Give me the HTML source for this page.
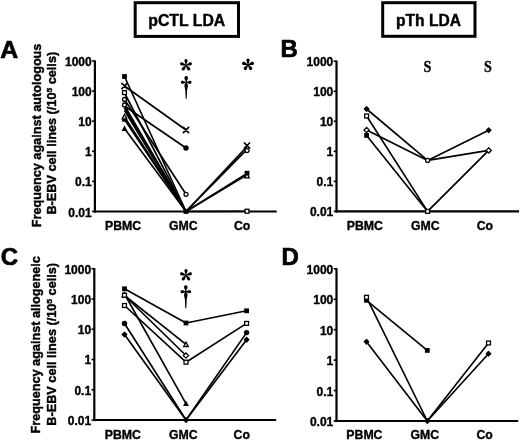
<!DOCTYPE html><html><head><meta charset="utf-8"><style>html,body{margin:0;padding:0;background:#fff;width:520px;height:441px;overflow:hidden;position:relative}</style></head><body><svg width="520" height="441" viewBox="0 0 520 441" style="position:absolute;left:0;top:0;will-change:transform">
<style>.t{font-family:"Liberation Sans", sans-serif;font-weight:bold;font-size:12px;fill:#000;stroke:#000;stroke-width:0.35px} .big{font-family:"Liberation Sans", sans-serif;font-weight:bold;font-size:24px;fill:#000;stroke:#000;stroke-width:0.7px} .ttl{font-family:"Liberation Sans", sans-serif;font-weight:bold;font-size:15.6px;fill:#000;stroke:#000;stroke-width:0.4px} .yl{font-family:"Liberation Sans", sans-serif;font-weight:bold;font-size:12px;fill:#000;stroke:#000;stroke-width:0.4px}</style>
<rect width="520" height="441" fill="#fff"/>
<rect x="135.2" y="2.7" width="103.3" height="33.7" fill="none" stroke="#000" stroke-width="3"/>
<text x="148.3" y="25.7" class="ttl" style="font-size:15.8px">pCTL LDA</text>
<rect x="382.7" y="2.7" width="92.3" height="33.6" fill="none" stroke="#000" stroke-width="3"/>
<text x="396" y="25.6" class="ttl">pTh LDA</text>
<text x="0.2" y="57.7" class="big" style="font-size:24.8px">A</text>
<text x="280.5" y="57.2" class="big">B</text>
<text x="0.8" y="265.2" class="big">C</text>
<text x="281.5" y="264.7" class="big">D</text>
<text transform="translate(40.6 135.4) rotate(-90)" text-anchor="middle" class="yl" textLength="183.6" lengthAdjust="spacingAndGlyphs">Frequency against autologous</text>
<text transform="translate(56.0 133.2) rotate(-90)" text-anchor="middle" class="yl" textLength="162.8" lengthAdjust="spacingAndGlyphs">B-EBV cell lines (/10<tspan dy="-4" font-size="8">5</tspan><tspan dy="4"> cells)</tspan></text>
<text transform="translate(40.0 344.8) rotate(-90)" text-anchor="middle" class="yl" textLength="177.4" lengthAdjust="spacingAndGlyphs">Frequency against allogeneic</text>
<text transform="translate(55.6 344.3) rotate(-90)" text-anchor="middle" class="yl" textLength="162.8" lengthAdjust="spacingAndGlyphs">B-EBV cell lines (/10<tspan dy="-4" font-size="8">5</tspan><tspan dy="4"> cells)</tspan></text>
<line x1="94.9" y1="60.4" x2="94.9" y2="212.6" stroke="#000" stroke-width="2.2"/>
<line x1="93.8" y1="211.5" x2="276.7" y2="211.5" stroke="#000" stroke-width="2.2"/>
<line x1="92.1" y1="61.0" x2="94.9" y2="61.0" stroke="#000" stroke-width="1.6"/>
<text x="91.7" y="66.0" text-anchor="end" class="t">1000</text>
<line x1="92.1" y1="91.1" x2="94.9" y2="91.1" stroke="#000" stroke-width="1.6"/>
<text x="91.7" y="96.1" text-anchor="end" class="t">100</text>
<line x1="92.1" y1="121.2" x2="94.9" y2="121.2" stroke="#000" stroke-width="1.6"/>
<text x="91.7" y="126.2" text-anchor="end" class="t">10</text>
<line x1="92.1" y1="151.3" x2="94.9" y2="151.3" stroke="#000" stroke-width="1.6"/>
<text x="91.7" y="156.3" text-anchor="end" class="t">1</text>
<line x1="92.1" y1="181.4" x2="94.9" y2="181.4" stroke="#000" stroke-width="1.6"/>
<text x="91.7" y="186.4" text-anchor="end" class="t">0.1</text>
<line x1="92.1" y1="211.5" x2="94.9" y2="211.5" stroke="#000" stroke-width="1.6"/>
<text x="91.7" y="216.5" text-anchor="end" class="t">0.01</text>
<text x="105.0" y="230.3" class="t" style="font-size:12.3px">PBMC</text>
<text x="169.0" y="230.3" class="t" style="font-size:12.3px">GMC</text>
<text x="233.9" y="230.3" class="t" style="font-size:12.3px">Co</text>
<line x1="336.5" y1="60.6" x2="336.5" y2="212.5" stroke="#000" stroke-width="2.2"/>
<line x1="335.4" y1="211.4" x2="519.0" y2="211.4" stroke="#000" stroke-width="2.2"/>
<line x1="333.7" y1="61.2" x2="336.5" y2="61.2" stroke="#000" stroke-width="1.6"/>
<text x="333.3" y="66.2" text-anchor="end" class="t">1000</text>
<line x1="333.7" y1="91.24" x2="336.5" y2="91.24" stroke="#000" stroke-width="1.6"/>
<text x="333.3" y="96.24" text-anchor="end" class="t">100</text>
<line x1="333.7" y1="121.28" x2="336.5" y2="121.28" stroke="#000" stroke-width="1.6"/>
<text x="333.3" y="126.28" text-anchor="end" class="t">10</text>
<line x1="333.7" y1="151.32" x2="336.5" y2="151.32" stroke="#000" stroke-width="1.6"/>
<text x="333.3" y="156.32" text-anchor="end" class="t">1</text>
<line x1="333.7" y1="181.36" x2="336.5" y2="181.36" stroke="#000" stroke-width="1.6"/>
<text x="333.3" y="186.36" text-anchor="end" class="t">0.1</text>
<line x1="333.7" y1="211.4" x2="336.5" y2="211.4" stroke="#000" stroke-width="1.6"/>
<text x="333.3" y="216.4" text-anchor="end" class="t">0.01</text>
<text x="346.7" y="230.3" class="t" style="font-size:12.3px">PBMC</text>
<text x="410.9" y="230.3" class="t" style="font-size:12.3px">GMC</text>
<text x="476.7" y="230.3" class="t" style="font-size:12.3px">Co</text>
<line x1="94.3" y1="268.1" x2="94.3" y2="421.1" stroke="#000" stroke-width="2.2"/>
<line x1="93.2" y1="420.0" x2="276.2" y2="420.0" stroke="#000" stroke-width="2.2"/>
<line x1="91.5" y1="268.7" x2="94.3" y2="268.7" stroke="#000" stroke-width="1.6"/>
<text x="91.1" y="273.7" text-anchor="end" class="t">1000</text>
<line x1="91.5" y1="298.96" x2="94.3" y2="298.96" stroke="#000" stroke-width="1.6"/>
<text x="91.1" y="303.96" text-anchor="end" class="t">100</text>
<line x1="91.5" y1="329.22" x2="94.3" y2="329.22" stroke="#000" stroke-width="1.6"/>
<text x="91.1" y="334.22" text-anchor="end" class="t">10</text>
<line x1="91.5" y1="359.48" x2="94.3" y2="359.48" stroke="#000" stroke-width="1.6"/>
<text x="91.1" y="364.48" text-anchor="end" class="t">1</text>
<line x1="91.5" y1="389.74" x2="94.3" y2="389.74" stroke="#000" stroke-width="1.6"/>
<text x="91.1" y="394.74" text-anchor="end" class="t">0.1</text>
<line x1="91.5" y1="420.0" x2="94.3" y2="420.0" stroke="#000" stroke-width="1.6"/>
<text x="91.1" y="425.0" text-anchor="end" class="t">0.01</text>
<text x="104.7" y="438.8" class="t" style="font-size:12.3px">PBMC</text>
<text x="169.0" y="438.8" class="t" style="font-size:12.3px">GMC</text>
<text x="233.5" y="438.8" class="t" style="font-size:12.3px">Co</text>
<line x1="336.5" y1="268.2" x2="336.5" y2="422.1" stroke="#000" stroke-width="2.2"/>
<line x1="335.4" y1="421.0" x2="518.2" y2="421.0" stroke="#000" stroke-width="2.2"/>
<line x1="333.7" y1="268.8" x2="336.5" y2="268.8" stroke="#000" stroke-width="1.6"/>
<text x="333.3" y="273.8" text-anchor="end" class="t">1000</text>
<line x1="333.7" y1="299.24" x2="336.5" y2="299.24" stroke="#000" stroke-width="1.6"/>
<text x="333.3" y="304.24" text-anchor="end" class="t">100</text>
<line x1="333.7" y1="329.68" x2="336.5" y2="329.68" stroke="#000" stroke-width="1.6"/>
<text x="333.3" y="334.68" text-anchor="end" class="t">10</text>
<line x1="333.7" y1="360.12" x2="336.5" y2="360.12" stroke="#000" stroke-width="1.6"/>
<text x="333.3" y="365.12" text-anchor="end" class="t">1</text>
<line x1="333.7" y1="390.56" x2="336.5" y2="390.56" stroke="#000" stroke-width="1.6"/>
<text x="333.3" y="395.56" text-anchor="end" class="t">0.1</text>
<line x1="333.7" y1="421.0" x2="336.5" y2="421.0" stroke="#000" stroke-width="1.6"/>
<text x="333.3" y="426.0" text-anchor="end" class="t">0.01</text>
<text x="346.3" y="439.4" class="t" style="font-size:12.3px">PBMC</text>
<text x="410.5" y="439.4" class="t" style="font-size:12.3px">GMC</text>
<text x="476.4" y="439.4" class="t" style="font-size:12.3px">Co</text>
<path d="M124.5 76.5 L186.0 211.5" fill="none" stroke="#000" stroke-width="1.65" stroke-linejoin="round"/>
<path d="M124.5 86.0 L186.0 130.0" fill="none" stroke="#000" stroke-width="1.65" stroke-linejoin="round"/>
<path d="M124.5 93.0 L186.0 211.5" fill="none" stroke="#000" stroke-width="1.65" stroke-linejoin="round"/>
<path d="M124.5 99.5 L186.0 194.3" fill="none" stroke="#000" stroke-width="1.65" stroke-linejoin="round"/>
<path d="M124.5 105.5 L186.0 211.5" fill="none" stroke="#000" stroke-width="1.65" stroke-linejoin="round"/>
<path d="M124.5 106.0 L186.0 148.0" fill="none" stroke="#000" stroke-width="1.65" stroke-linejoin="round"/>
<path d="M124.5 108.0 L186.0 211.5" fill="none" stroke="#000" stroke-width="1.65" stroke-linejoin="round"/>
<path d="M124.5 110.5 L186.0 211.5" fill="none" stroke="#000" stroke-width="1.65" stroke-linejoin="round"/>
<path d="M124.5 117.0 L186.0 211.5" fill="none" stroke="#000" stroke-width="1.65" stroke-linejoin="round"/>
<path d="M124.5 119.5 L186.0 211.5" fill="none" stroke="#000" stroke-width="1.65" stroke-linejoin="round"/>
<path d="M124.5 128.5 L186.0 211.5" fill="none" stroke="#000" stroke-width="1.65" stroke-linejoin="round"/>
<path d="M186.0 211.5 L247.0 146.6" fill="none" stroke="#000" stroke-width="1.65" stroke-linejoin="round"/>
<path d="M186.0 211.5 L247.0 149.4" fill="none" stroke="#000" stroke-width="1.65" stroke-linejoin="round"/>
<path d="M186.0 211.5 L247.0 173.4" fill="none" stroke="#000" stroke-width="1.65" stroke-linejoin="round"/>
<path d="M186.0 211.5 L247.0 174.9" fill="none" stroke="#000" stroke-width="1.65" stroke-linejoin="round"/>
<path d="M186.0 211.5 L247.0 211.2" fill="none" stroke="#000" stroke-width="1.65" stroke-linejoin="round"/>
<rect x="122.1" y="74.1" width="4.8" height="4.8" fill="#000"/>
<path d="M121.9 83.4L127.1 88.6M127.1 83.4L121.9 88.6" stroke="#000" stroke-width="1.7" stroke-linecap="round"/>
<rect x="122.55" y="90.65" width="3.9" height="3.9" fill="#fff" stroke="#000" stroke-width="1.3"/>
<circle cx="124.5" cy="99.5" r="2.0" fill="#fff" stroke="#000" stroke-width="1.3"/>
<circle cx="124.5" cy="105" r="2.0" fill="#fff" stroke="#000" stroke-width="1.3"/>
<rect x="122.1" y="116.9" width="4.8" height="4.8" fill="#000"/>
<path d="M124.5 114.5L126.8 118.9L122.2 118.9Z" fill="#fff" stroke="#000" stroke-width="1.3"/>
<path d="M124.5 125.3L127.4 130.9L121.6 130.9Z" fill="#000"/>
<path d="M183.4 127.4L188.6 132.6M188.6 127.4L183.4 132.6" stroke="#000" stroke-width="1.7" stroke-linecap="round"/>
<circle cx="186.0" cy="148" r="2.7" fill="#000"/>
<circle cx="186.0" cy="194.3" r="2.0" fill="#fff" stroke="#000" stroke-width="1.3"/>
<rect x="183.6" y="209.1" width="4.8" height="4.8" fill="#000"/>
<circle cx="247.0" cy="150.6" r="2.0" fill="#fff" stroke="#000" stroke-width="1.3"/>
<path d="M244.4 143.0L249.6 148.2M249.6 143.0L244.4 148.2" stroke="#000" stroke-width="1.7" stroke-linecap="round"/>
<rect x="244.6" y="170.8" width="4.8" height="4.8" fill="#000"/>
<path d="M247.0 173.5L249.3 177.9L244.7 177.9Z" fill="#fff" stroke="#000" stroke-width="1.3"/>
<rect x="245.05" y="209.25" width="3.9" height="3.9" fill="#fff" stroke="#000" stroke-width="1.3"/>
<g transform="translate(186 65.2) rotate(-90) scale(1.0)"><path d="M0 -0.4 C1.7 -0.5 3.2 -1.6 4.6 -1.6 A1.6 1.6 0 0 1 4.6 1.6 C3.2 1.6 1.7 0.5 0 0.4Z" fill="#000"/></g><g transform="translate(186 65.2) rotate(-18) scale(1.0)"><path d="M0 -0.4 C1.7 -0.5 3.2 -1.6 4.6 -1.6 A1.6 1.6 0 0 1 4.6 1.6 C3.2 1.6 1.7 0.5 0 0.4Z" fill="#000"/></g><g transform="translate(186 65.2) rotate(54) scale(1.0)"><path d="M0 -0.4 C1.7 -0.5 3.2 -1.6 4.6 -1.6 A1.6 1.6 0 0 1 4.6 1.6 C3.2 1.6 1.7 0.5 0 0.4Z" fill="#000"/></g><g transform="translate(186 65.2) rotate(126) scale(1.0)"><path d="M0 -0.4 C1.7 -0.5 3.2 -1.6 4.6 -1.6 A1.6 1.6 0 0 1 4.6 1.6 C3.2 1.6 1.7 0.5 0 0.4Z" fill="#000"/></g><g transform="translate(186 65.2) rotate(198) scale(1.0)"><path d="M0 -0.4 C1.7 -0.5 3.2 -1.6 4.6 -1.6 A1.6 1.6 0 0 1 4.6 1.6 C3.2 1.6 1.7 0.5 0 0.4Z" fill="#000"/></g>
<g transform="translate(186.2 75.9) scale(1.0)"><path d="M0 0 C1.5 0 1.9 1.1 1.7 2.3 C1.5 3.5 0.6 4.5 0.5 6.2 L-0.5 6.2 C-0.6 4.5 -1.5 3.5 -1.7 2.3 C-1.9 1.1 -1.5 0 0 0Z" fill="#000"/><path d="M-5.3 6.4 C-5.3 5.0 -4.1 4.7 -3.0 5.0 C-1.9 5.3 -1.1 5.9 0 5.9 C1.1 5.9 1.9 5.3 3.0 5.0 C4.1 4.7 5.3 5.0 5.3 6.4 C5.3 7.8 4.1 8.1 3.0 7.8 C1.9 7.5 1.1 6.9 0 6.9 C-1.1 6.9 -1.9 7.5 -3.0 7.8 C-4.1 8.1 -5.3 7.8 -5.3 6.4Z" fill="#000"/><path d="M-0.6 6.6 C-1.2 7.6 -1.8 8.6 -1.75 10.0 C-1.7 11.4 -1.1 12.5 -0.9 14.5 L-0.5 22.9 L0.5 22.9 L0.9 14.5 C1.1 12.5 1.7 11.4 1.75 10.0 C1.8 8.6 1.2 7.6 0.6 6.6Z" fill="#000"/></g>
<g transform="translate(248 64.8) rotate(-90) scale(1.0)"><path d="M0 -0.4 C1.7 -0.5 3.2 -1.6 4.6 -1.6 A1.6 1.6 0 0 1 4.6 1.6 C3.2 1.6 1.7 0.5 0 0.4Z" fill="#000"/></g><g transform="translate(248 64.8) rotate(-18) scale(1.0)"><path d="M0 -0.4 C1.7 -0.5 3.2 -1.6 4.6 -1.6 A1.6 1.6 0 0 1 4.6 1.6 C3.2 1.6 1.7 0.5 0 0.4Z" fill="#000"/></g><g transform="translate(248 64.8) rotate(54) scale(1.0)"><path d="M0 -0.4 C1.7 -0.5 3.2 -1.6 4.6 -1.6 A1.6 1.6 0 0 1 4.6 1.6 C3.2 1.6 1.7 0.5 0 0.4Z" fill="#000"/></g><g transform="translate(248 64.8) rotate(126) scale(1.0)"><path d="M0 -0.4 C1.7 -0.5 3.2 -1.6 4.6 -1.6 A1.6 1.6 0 0 1 4.6 1.6 C3.2 1.6 1.7 0.5 0 0.4Z" fill="#000"/></g><g transform="translate(248 64.8) rotate(198) scale(1.0)"><path d="M0 -0.4 C1.7 -0.5 3.2 -1.6 4.6 -1.6 A1.6 1.6 0 0 1 4.6 1.6 C3.2 1.6 1.7 0.5 0 0.4Z" fill="#000"/></g>
<path d="M366.6 109.0 L427.6 160.4 L488.7 130.2" fill="none" stroke="#000" stroke-width="1.65" stroke-linejoin="round"/>
<path d="M366.6 130.0 L427.6 160.4 L488.7 150.4" fill="none" stroke="#000" stroke-width="1.65" stroke-linejoin="round"/>
<path d="M366.6 116.0 L427.6 211.4 L488.7 150.4" fill="none" stroke="#000" stroke-width="1.65" stroke-linejoin="round"/>
<path d="M366.6 135.4 L427.6 211.4" fill="none" stroke="#000" stroke-width="1.65" stroke-linejoin="round"/>
<path d="M366.6 106.7L368.9 109L366.6 111.3L364.3 109Z" fill="#000" stroke="#000" stroke-width="1.2" stroke-linejoin="round"/>
<rect x="364.65" y="114.05" width="3.9" height="3.9" fill="#fff" stroke="#000" stroke-width="1.3"/>
<path d="M366.6 127.4L369.2 130L366.6 132.6L364.0 130Z" fill="#fff" stroke="#000" stroke-width="1.3"/>
<rect x="364.2" y="133.0" width="4.8" height="4.8" fill="#000"/>
<circle cx="427.6" cy="160.4" r="2.0" fill="#fff" stroke="#000" stroke-width="1.3"/>
<rect x="425.65" y="209.45" width="3.9" height="3.9" fill="#fff" stroke="#000" stroke-width="1.3"/>
<path d="M488.7 127.9L491.0 130.2L488.7 132.5L486.4 130.2Z" fill="#000" stroke="#000" stroke-width="1.2" stroke-linejoin="round"/>
<path d="M488.7 147.8L491.3 150.4L488.7 153.0L486.1 150.4Z" fill="#fff" stroke="#000" stroke-width="1.3"/>
<line x1="427.3" y1="58.7" x2="427.3" y2="73.7" stroke="#000" stroke-opacity="0.08" stroke-width="0.8"/>
<text transform="translate(427.3 72.3) scale(0.83 1)" text-anchor="middle" style="font-family:'Liberation Serif';font-weight:bold;font-size:17px;stroke:#000;stroke-width:0.35px">S</text>
<line x1="487.9" y1="58.4" x2="487.9" y2="73.4" stroke="#000" stroke-opacity="0.08" stroke-width="0.8"/>
<text transform="translate(487.9 72.0) scale(0.83 1)" text-anchor="middle" style="font-family:'Liberation Serif';font-weight:bold;font-size:17px;stroke:#000;stroke-width:0.35px">S</text>
<path d="M124.5 288.8 L186.0 323.0 L246.6 310.8" fill="none" stroke="#000" stroke-width="1.65" stroke-linejoin="round"/>
<path d="M124.5 295.5 L186.0 344.4" fill="none" stroke="#000" stroke-width="1.65" stroke-linejoin="round"/>
<path d="M124.5 295.5 L186.0 355.5" fill="none" stroke="#000" stroke-width="1.65" stroke-linejoin="round"/>
<path d="M124.5 305.5 L186.0 362.2 L246.6 323.4" fill="none" stroke="#000" stroke-width="1.65" stroke-linejoin="round"/>
<path d="M124.5 294.0 L186.0 403.7" fill="none" stroke="#000" stroke-width="1.65" stroke-linejoin="round"/>
<path d="M124.5 323.5 L186.0 420.0 L246.6 332.6" fill="none" stroke="#000" stroke-width="1.65" stroke-linejoin="round"/>
<path d="M124.5 334.5 L186.0 420.0 L246.6 339.7" fill="none" stroke="#000" stroke-width="1.65" stroke-linejoin="round"/>
<path d="M124.5 291.3L127.4 296.9L121.6 296.9Z" fill="#000"/>
<path d="M124.5 292.7L126.8 297.1L122.2 297.1Z" fill="#fff" stroke="#000" stroke-width="1.3"/>
<rect x="122.55" y="293.25" width="3.9" height="3.9" fill="#fff" stroke="#000" stroke-width="1.3"/>
<rect x="122.1" y="286.4" width="4.8" height="4.8" fill="#000"/>
<rect x="122.55" y="303.55" width="3.9" height="3.9" fill="#fff" stroke="#000" stroke-width="1.3"/>
<circle cx="124.5" cy="323.5" r="2.7" fill="#000"/>
<path d="M124.5 332.2L126.8 334.5L124.5 336.8L122.2 334.5Z" fill="#000" stroke="#000" stroke-width="1.2" stroke-linejoin="round"/>
<rect x="183.6" y="320.6" width="4.8" height="4.8" fill="#000"/>
<path d="M186.0 342.1L188.3 346.5L183.7 346.5Z" fill="#fff" stroke="#000" stroke-width="1.3"/>
<path d="M186.0 353.0L188.6 355.6L186.0 358.2L183.4 355.6Z" fill="#fff" stroke="#000" stroke-width="1.3"/>
<rect x="184.05" y="360.25" width="3.9" height="3.9" fill="#fff" stroke="#000" stroke-width="1.3"/>
<path d="M186.0 400.5L188.9 406.1L183.1 406.1Z" fill="#000"/>
<path d="M186.0 417.7L188.3 420L186.0 422.3L183.7 420Z" fill="#000" stroke="#000" stroke-width="1.2" stroke-linejoin="round"/>
<rect x="244.2" y="308.4" width="4.8" height="4.8" fill="#000"/>
<rect x="244.65" y="321.45" width="3.9" height="3.9" fill="#fff" stroke="#000" stroke-width="1.3"/>
<circle cx="246.6" cy="332.6" r="2.7" fill="#000"/>
<path d="M246.6 337.4L248.9 339.7L246.6 342.0L244.3 339.7Z" fill="#000" stroke="#000" stroke-width="1.2" stroke-linejoin="round"/>
<g transform="translate(186 275.2) rotate(-90) scale(1.0)"><path d="M0 -0.4 C1.7 -0.5 3.2 -1.6 4.6 -1.6 A1.6 1.6 0 0 1 4.6 1.6 C3.2 1.6 1.7 0.5 0 0.4Z" fill="#000"/></g><g transform="translate(186 275.2) rotate(-18) scale(1.0)"><path d="M0 -0.4 C1.7 -0.5 3.2 -1.6 4.6 -1.6 A1.6 1.6 0 0 1 4.6 1.6 C3.2 1.6 1.7 0.5 0 0.4Z" fill="#000"/></g><g transform="translate(186 275.2) rotate(54) scale(1.0)"><path d="M0 -0.4 C1.7 -0.5 3.2 -1.6 4.6 -1.6 A1.6 1.6 0 0 1 4.6 1.6 C3.2 1.6 1.7 0.5 0 0.4Z" fill="#000"/></g><g transform="translate(186 275.2) rotate(126) scale(1.0)"><path d="M0 -0.4 C1.7 -0.5 3.2 -1.6 4.6 -1.6 A1.6 1.6 0 0 1 4.6 1.6 C3.2 1.6 1.7 0.5 0 0.4Z" fill="#000"/></g><g transform="translate(186 275.2) rotate(198) scale(1.0)"><path d="M0 -0.4 C1.7 -0.5 3.2 -1.6 4.6 -1.6 A1.6 1.6 0 0 1 4.6 1.6 C3.2 1.6 1.7 0.5 0 0.4Z" fill="#000"/></g>
<g transform="translate(185.8 285.3) scale(1.0)"><path d="M0 0 C1.5 0 1.9 1.1 1.7 2.3 C1.5 3.5 0.6 4.5 0.5 6.2 L-0.5 6.2 C-0.6 4.5 -1.5 3.5 -1.7 2.3 C-1.9 1.1 -1.5 0 0 0Z" fill="#000"/><path d="M-5.3 6.4 C-5.3 5.0 -4.1 4.7 -3.0 5.0 C-1.9 5.3 -1.1 5.9 0 5.9 C1.1 5.9 1.9 5.3 3.0 5.0 C4.1 4.7 5.3 5.0 5.3 6.4 C5.3 7.8 4.1 8.1 3.0 7.8 C1.9 7.5 1.1 6.9 0 6.9 C-1.1 6.9 -1.9 7.5 -3.0 7.8 C-4.1 8.1 -5.3 7.8 -5.3 6.4Z" fill="#000"/><path d="M-0.6 6.6 C-1.2 7.6 -1.8 8.6 -1.75 10.0 C-1.7 11.4 -1.1 12.5 -0.9 14.5 L-0.5 22.9 L0.5 22.9 L0.9 14.5 C1.1 12.5 1.7 11.4 1.75 10.0 C1.8 8.6 1.2 7.6 0.6 6.6Z" fill="#000"/></g>
<path d="M366.5 300.3 L427.3 350.4" fill="none" stroke="#000" stroke-width="1.65" stroke-linejoin="round"/>
<path d="M366.5 297.3 L427.3 421.0 L488.5 343.0" fill="none" stroke="#000" stroke-width="1.65" stroke-linejoin="round"/>
<path d="M366.5 341.7 L427.3 421.0 L488.5 353.7" fill="none" stroke="#000" stroke-width="1.65" stroke-linejoin="round"/>
<rect x="364.1" y="297.9" width="4.8" height="4.8" fill="#000"/>
<rect x="364.55" y="295.35" width="3.9" height="3.9" fill="#fff" stroke="#000" stroke-width="1.3"/>
<path d="M366.5 339.4L368.8 341.7L366.5 344.0L364.2 341.7Z" fill="#000" stroke="#000" stroke-width="1.2" stroke-linejoin="round"/>
<rect x="424.9" y="348.0" width="4.8" height="4.8" fill="#000"/>
<path d="M427.3 418.7L429.6 421L427.3 423.3L425.0 421Z" fill="#000" stroke="#000" stroke-width="1.2" stroke-linejoin="round"/>
<rect x="486.55" y="341.05" width="3.9" height="3.9" fill="#fff" stroke="#000" stroke-width="1.3"/>
<path d="M488.5 351.4L490.8 353.7L488.5 356.0L486.2 353.7Z" fill="#000" stroke="#000" stroke-width="1.2" stroke-linejoin="round"/>
</svg></body></html>
